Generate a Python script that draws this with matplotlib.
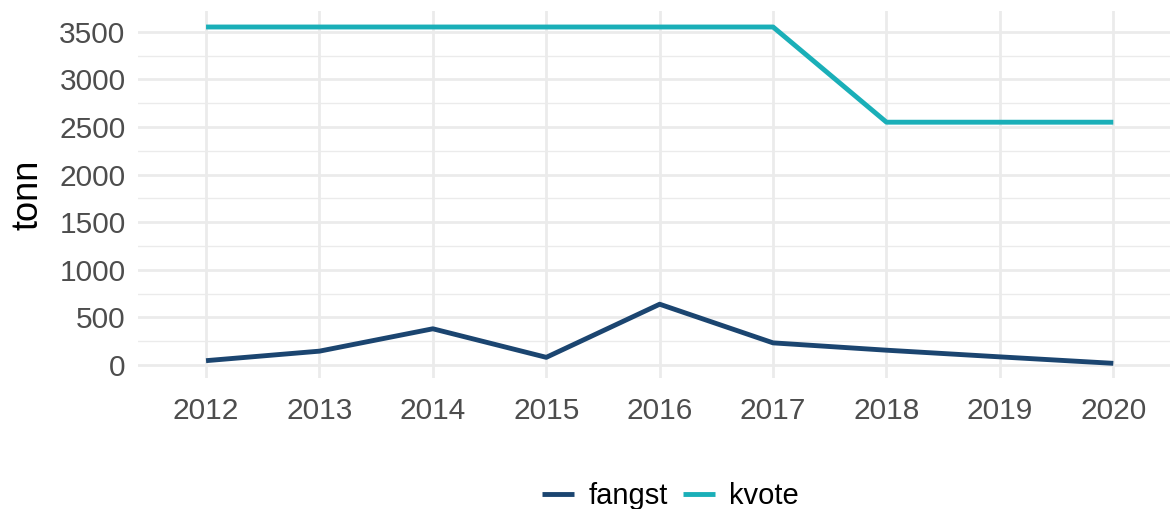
import matplotlib
matplotlib.use("Agg")
import matplotlib.pyplot as plt
from matplotlib.ticker import MultipleLocator

plt.rcParams['font.family'] = ['Liberation Sans', 'DejaVu Sans']

years = [2012, 2013, 2014, 2015, 2016, 2017, 2018, 2019, 2020]
fangst = [45, 145, 380, 80, 638, 232, 155, 85, 17]
kvote = [3550, 3550, 3550, 3550, 3550, 3550, 2550, 2550, 2550]

col_fangst = '#1b4570'
col_kvote = '#1aafb8'

fig = plt.figure(figsize=(11.7, 5.09), dpi=100)
ax = fig.add_axes([138/1170, 1 - 378/509, 1 - 138/1170, (378 - 11)/509])

ax.plot(years, fangst, color=col_fangst, lw=3.5, label='fangst', solid_capstyle='butt', zorder=3)
ax.plot(years, kvote, color=col_kvote, lw=3.5, label='kvote', solid_capstyle='butt', zorder=3)

ax.set_xlim(2011.4, 2020.5)
ax.set_ylim(-137, 3718)
ax.set_xticks(years)
ax.yaxis.set_major_locator(MultipleLocator(500))
ax.yaxis.set_minor_locator(MultipleLocator(250))
ax.xaxis.set_minor_locator(MultipleLocator(0.5))

# ggplot-aktig minimal stil
ax.grid(which='major', color='#ebebeb', lw=2.0)
ax.grid(which='minor', axis='y', color='#ebebeb', lw=1.0)
ax.set_axisbelow(True)
for s in ax.spines.values():
    s.set_visible(False)
ax.tick_params(which='both', length=0)
ax.tick_params(axis='x', labelsize=21.5, labelcolor='#4d4d4d', pad=14)
ax.tick_params(axis='y', labelsize=21.5, labelcolor='#4d4d4d', pad=9)
ax.set_ylabel('tonn', fontsize=26, labelpad=10)

fig.legend(loc='center', bbox_to_anchor=(0.573, 1 - 496/509), ncol=2, frameon=False,
           fontsize=21, handlelength=1.1, handletextpad=0.5, columnspacing=0.5)

fig.savefig('out.png', dpi=100)
